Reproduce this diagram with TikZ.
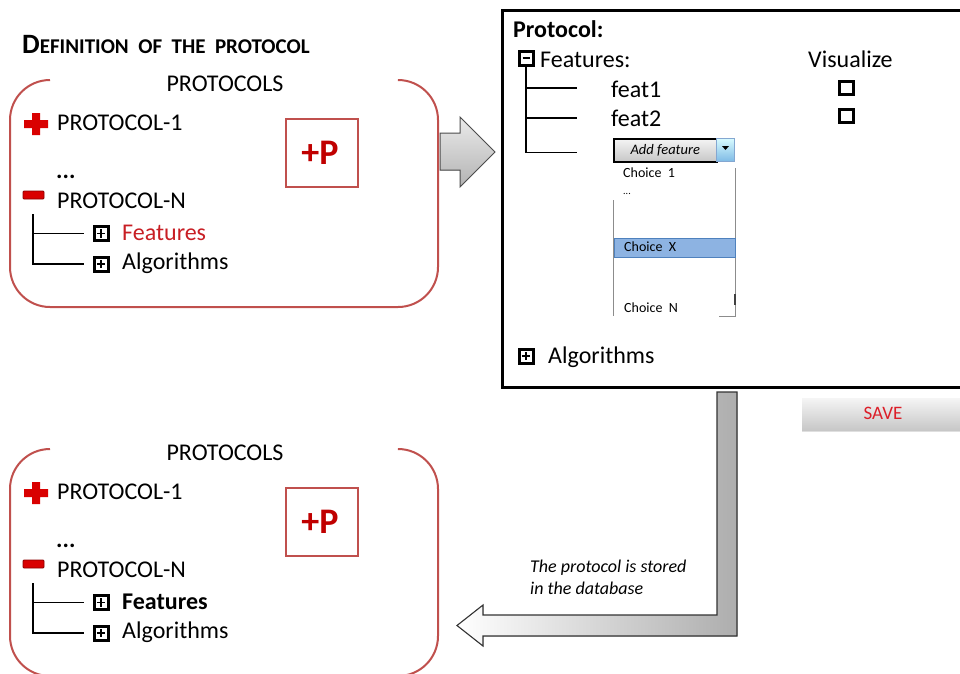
\documentclass[tikz,border=0pt]{standalone}
\usepackage{fontspec}
\setmainfont{Carlito}
\usetikzlibrary{shadows}
\newcommand\myfs[1]{\fontsize{#1}{#1}\selectfont}
\definecolor{boxred}{RGB}{192,80,77}
\definecolor{pred}{RGB}{192,0,0}
\definecolor{featred}{RGB}{200,30,36}
\definecolor{saved}{RGB}{220,30,40}
\definecolor{hlblue}{RGB}{141,179,226}
\definecolor{hlborder}{RGB}{79,129,189}
\tikzset{
  txt/.style={anchor=base west, inner sep=0pt, font=\myfs{24}},
  treeline/.style={line width=1.3pt, black},
  panel/.style={draw=boxred, line width=2pt, rounded corners=40pt},
  pbox/.style={draw=boxred, line width=2pt},
  icon/.style={line width=2.4pt, black},
  small/.style={anchor=base west, inner sep=0pt, font=\myfs{14}},
  bplus/.pic={\draw[line width=3pt] (-7,-7) rectangle (7,7);
              \draw[line width=1.2pt] (-4.2,0)--(4.2,0) (0,-4.2)--(0,4.2);},
  bminus/.pic={\draw[line width=3pt] (-7,-7) rectangle (7,7);
               \draw[line width=1.6pt] (-3.5,0)--(3.5,0);}
}
\newcommand\protopanel[2]{%
  % #1 = name prefix, #2 = features text
  \draw[panel] (50,80) -- (10,80) -- (10,307) -- (438,307) -- (438,80) -- (402,80);
  \node[anchor=base, inner sep=0pt, font=\myfs{24}] (#1lbl) at (225,91) {PROTOCOLS};
  \fill[red!85!black] (24,120) rectangle (48,128) (32,113) rectangle (40,135);
  \node[txt] (#1p1) at (57,130) {PROTOCOL-1};
  \node[txt] (#1dots) at (56,178) {\bfseries...};
  \filldraw[fill=red!85!black, draw=red!55!black, line width=0.8pt, rounded corners=1pt] (23,191) rectangle (44,199);
  \node[txt] (#1pn) at (57,208) {PROTOCOL-N};
  \coordinate (#1t0) at (33,214);
  \coordinate (#1t1) at (33,233.5);
  \coordinate (#1t2) at (33,264);
  \coordinate (#1e1) at (84,233.5);
  \coordinate (#1e2) at (84,264);
  \draw[treeline] (#1t0) -- (#1t2) -- (#1e2);
  \draw[treeline] (#1t1) -- (#1e1);
  \pic at (101,233.5) {bplus};
  \pic at (101,264) {bplus};
  \node[txt] (#1feat) at (122,240) {#2};
  \node[txt] (#1alg) at (122,269) {Algorithms};
  \draw[pbox] (286,119) rectangle (358,187);
  \node[anchor=base, inner sep=0pt, font=\bfseries\myfs{36}, text=pred] (#1pp) at (320,164) {+P};
}
\begin{document}
\begin{tikzpicture}[x=1pt,y=-1pt]
\useasboundingbox (0,0) rectangle (960,673);
\clip (0,0) rectangle (960,673);
\fill[white] (0,0) rectangle (960,673);

% title
\node[anchor=base west, inner sep=0pt] (title) at (22,53)
  {\bfseries\myfs{28}D\myfs{21}EFINITION\ \ OF\ \ THE\ \ PROTOCOL};

% right block arrow (drawn first, panel border overlaps it)
\coordinate (ra0) at (440,133);
\filldraw[draw=black!70, line width=1pt, top color=black!8, bottom color=black!30]
  (ra0) -- (460,133) -- (460,117) -- (495,152) -- (460,187) -- (460,170) -- (440,170) -- cycle;

% top panel
\protopanel{a}{\textcolor{featred}{Features}}

% bottom panel
\begin{scope}[shift={(0,369)}]
\protopanel{b}{\bfseries Features}
\end{scope}

% window
\draw[line width=3pt] (502,10) rectangle (990,387);
\node[anchor=base west, inner sep=0pt, font=\bfseries\myfs{24}] (wtitle) at (513,37) {Protocol:};
\pic at (526,58) {bminus};
\node[txt] (wfeat) at (540,67) {Features:};
\node[txt] (wvis) at (808,67) {Visualize};
\coordinate (w0) at (526,66);
\coordinate (w1) at (526,88);
\coordinate (w2) at (526,118);
\coordinate (w3) at (526,152.5);
\draw[treeline] (w0) -- (w3) -- (577,152.5);
\draw[treeline] (w1) -- (577,88);
\draw[treeline] (w2) -- (577,118);
\node[txt] (f1) at (611,97) {feat1};
\node[txt] (f2) at (611,126) {feat2};
\draw[icon, line width=3pt] (839.5,81.5) rectangle (853.5,94.5);
\draw[icon, line width=3pt] (839.5,109.5) rectangle (853.5,122.5);

% dropdown
\draw[black!45, line width=1pt] (613,200) -- (613,316);
\draw[black!45, line width=1pt] (735,168) -- (735,316) -- (719,316);
\draw[black!75, line width=1.6pt] (735,294) -- (735,305);
\filldraw[fill=hlblue, draw=hlborder, line width=1pt] (614,238) rectangle (735,257);
\node[draw=black, line width=1.5pt, top color=black!4, bottom color=black!22, minimum width=103pt, minimum height=23pt, inner sep=0pt, anchor=north west, font=\itshape\myfs{14.5}] (addf) at (613,138) {Add feature};
\node[draw=hlborder!70, line width=0.6pt, top color=blue!10!cyan!15, bottom color=hlblue!90!cyan, minimum width=18pt, minimum height=23pt, inner sep=0pt, anchor=north west] (ddbtn) at (716,138) {};
\fill[black] (722,146) -- (729,146) -- (725.5,150) -- cycle;
\node[small] (c1) at (623,177) {Choice\ \ 1};
\node[small] (cdots) at (623,194) {\myfs{10}...};
\node[small] (cx) at (624,251) {Choice\ \ X};
\node[small] (cn) at (624,312) {Choice\ \ N};

\pic at (526,356) {bplus};
\node[txt] (walg) at (548,363) {Algorithms};

% save button
\node[top color=black!4, bottom color=black!22, minimum width=170pt, minimum height=32pt, inner sep=0pt, anchor=north west, drop shadow={shadow xshift=0pt, shadow yshift=-2pt, opacity=0.25}] (save) at (802,398) {};
\node[anchor=base, inner sep=0pt, font=\myfs{19}, text=saved] (savet) at (883,419) {SAVE};

% bent arrow
\coordinate (ba0) at (717,392);
\filldraw[draw=black!80, line width=1.1pt, left color=white, right color=black!32]
  (ba0) -- (737,392) -- (737,636) -- (483,636) -- (483,646) -- (457,625.5) -- (483,605) -- (483,615) -- (717,615) -- cycle;
\node[anchor=base west, inner sep=0pt, font=\itshape\myfs{18}] (note1) at (530,572) {The protocol is stored};
\node[anchor=base west, inner sep=0pt, font=\itshape\myfs{18}] (note2) at (530,594) {in the database};
\end{tikzpicture}
\end{document}
